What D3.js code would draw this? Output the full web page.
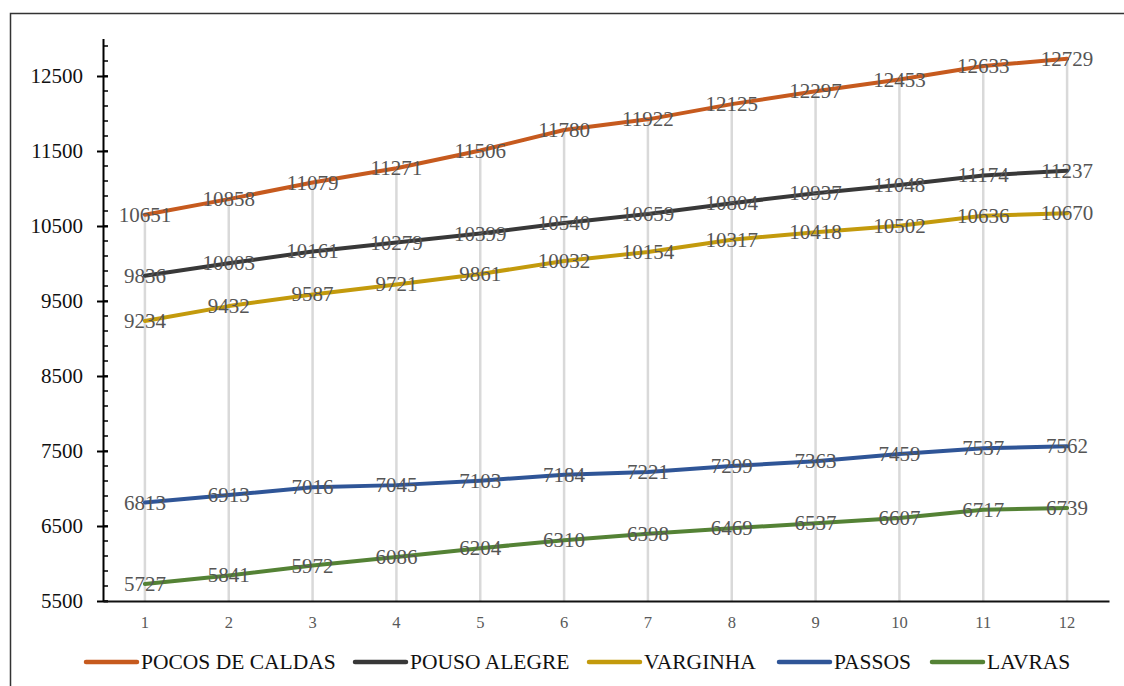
<!DOCTYPE html>
<html>
<head>
<meta charset="utf-8">
<script src="https://cdn.jsdelivr.net/npm/d3@7"></script>
<style>
  html, body { margin: 0; padding: 0; background: #fff; }
  svg { display: block; }
  svg text { font-family: "Liberation Serif", "DejaVu Serif", serif !important; }
</style>
</head>
<body>
<svg id="chart" width="1124" height="686"></svg>
<script>
const categories = [1, 2, 3, 4, 5, 6, 7, 8, 9, 10, 11, 12];
const seriesNames = ["POCOS DE CALDAS", "POUSO ALEGRE", "VARGINHA", "PASSOS", "LAVRAS"];
const pocosDeCaldas = [10651, 10858, 11079, 11271, 11506, 11780, 11922, 12125, 12297, 12453, 12633, 12729];
const pousoAlegre   = [9836, 10003, 10161, 10279, 10399, 10540, 10659, 10804, 10937, 11048, 11174, 11237];
const varginha      = [9234, 9432, 9587, 9721, 9861, 10032, 10154, 10317, 10418, 10502, 10636, 10670];
const passos        = [6813, 6913, 7016, 7045, 7103, 7184, 7221, 7299, 7363, 7459, 7537, 7562];
const lavras        = [5727, 5841, 5972, 6086, 6204, 6310, 6398, 6469, 6537, 6607, 6717, 6739];
const yTickValues   = [5500, 6500, 7500, 8500, 9500, 10500, 11500, 12500];
const seriesColors  = ["#C65A1E", "#383838", "#C39A0C", "#2F5597", "#548235"];

(function () {
const FONT = "'Liberation Serif', 'DejaVu Serif', serif";
const seriesValues = [pocosDeCaldas, pousoAlegre, varginha, passos, lavras];
const series = seriesNames.map((name, i) => ({ name, values: seriesValues[i], color: seriesColors[i] }));

const svg = d3.select("#chart");

// outer frame
svg.append("rect")
  .attr("x", 10.5).attr("y", 13.5).attr("width", 1200).attr("height", 800)
  .attr("fill", "none").attr("stroke", "#333").attr("stroke-width", 1.5);

const pLeft = 103, pRight = 1109, pTop = 38.5, pBottom = 601;

const x = d3.scaleBand().domain(categories).range([pLeft, pRight]);
const cx = d => x(d) + x.bandwidth() / 2;
const y = d3.scaleLinear().domain([5500, 13000]).range([pBottom, pTop]);

// drop lines (from highest value to axis)
const maxVals = categories.map((c, i) => d3.max(seriesValues, s => s[i]));
svg.append("g").selectAll("line").data(categories).join("line")
  .attr("x1", d => cx(d)).attr("x2", d => cx(d))
  .attr("y1", (d, i) => y(maxVals[i])).attr("y2", pBottom)
  .attr("stroke", "#d9d9d9").attr("stroke-width", 2.5);

// y minor ticks
const minorTicks = d3.range(5500, 13001, 200);
svg.append("g").selectAll("line").data(minorTicks).join("line")
  .attr("x1", pLeft).attr("x2", pLeft + 5)
  .attr("y1", d => y(d)).attr("y2", d => y(d))
  .attr("stroke", "#000").attr("stroke-width", 1.5);

// y axis
const yAxis = d3.axisLeft(y).tickValues(yTickValues).tickFormat(d3.format("d"))
  .tickSizeInner(6).tickSizeOuter(0).tickPadding(14);
const gy = svg.append("g").attr("transform", `translate(${pLeft},0)`).call(yAxis)
  .attr("font-family", FONT);
gy.select(".domain").attr("stroke", "#000").attr("stroke-width", 2);
gy.selectAll(".tick line").attr("stroke", "#000").attr("stroke-width", 2).attr("x2", 5).attr("x1", -6);
gy.selectAll(".tick text").attr("font-size", 21).attr("fill", "#111");

// x axis
const xAxis = d3.axisBottom(x).tickSize(0).tickPadding(15);
const gx = svg.append("g").attr("transform", `translate(0,${pBottom})`).call(xAxis)
  .attr("font-family", FONT);
gx.select(".domain").attr("stroke", "#111").attr("stroke-width", 2);
gx.selectAll(".tick text").attr("font-size", 16.5).attr("fill", "#595959");

// lines
const line = d3.line().x((d, i) => cx(categories[i])).y(d => y(d));
svg.append("g").selectAll("path").data(series).join("path")
  .attr("d", d => line(d.values))
  .attr("fill", "none").attr("stroke", d => d.color)
  .attr("stroke-width", 4).attr("stroke-linejoin", "round").attr("stroke-linecap", "round");

// data labels
const lg = svg.append("g").attr("font-family", FONT);
series.forEach(s => {
  lg.append("g").selectAll("text").data(s.values).join("text")
    .attr("x", (d, i) => cx(categories[i]))
    .attr("y", d => y(d))
    .attr("text-anchor", "middle")
    .attr("dominant-baseline", "central")
    .attr("font-size", 21)
    .attr("fill", "#555")
    .text(d => d);
});

// legend
const legendX = [84, 353, 587, 777, 930];
const legY = 662;
const leg = svg.append("g").attr("font-family", FONT);
series.forEach((s, i) => {
  leg.append("line")
    .attr("x1", legendX[i] + 2).attr("x2", legendX[i] + 53)
    .attr("y1", legY).attr("y2", legY)
    .attr("stroke", s.color).attr("stroke-width", 4.5).attr("stroke-linecap", "round");
  leg.append("text")
    .attr("x", legendX[i] + 57).attr("y", legY)
    .attr("dominant-baseline", "central")
    .attr("font-size", 21.5).attr("fill", "#111")
    .text(s.name);
});
})();
</script>
</body>
</html>
